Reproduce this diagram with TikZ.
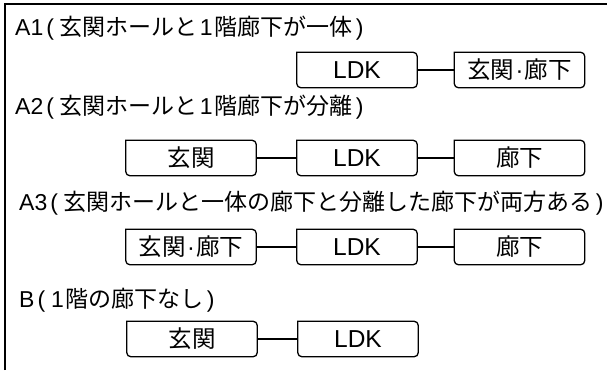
\documentclass[tikz,border=0pt]{standalone}
\usepackage{fontspec}
\setmainfont{Liberation Sans}
\newfontfamily\jp{Noto Sans CJK JP}
\newcommand{\J}[1]{{\jp #1}}
\newcommand{\Dot}{\hspace{1.5pt}·\hspace{1.5pt}}
\begin{document}
\begin{tikzpicture}[x=1pt,y=-1pt,
  lbl/.style={anchor=west,inner sep=0pt,font=\fontsize{23}{27}\selectfont},
  room/.style={inner sep=0pt,minimum height=35pt,font=\fontsize{23.5}{27}\selectfont},
  wide/.style={room,minimum width=130pt},
  mid/.style={room,minimum width=120pt,font=\fontsize{24.5}{27}\selectfont},
  link/.style={line width=1.2pt},
  outline/.style={line width=1.3pt,rounded corners=4pt,line cap=rect},
  frame/.style={line width=1.6pt}]
\useasboundingbox (0,0) rectangle (607,370);
\draw[frame] (5,370) -- (5,4) -- (607,4);

% labels
\node[lbl] (la1) at (15,28) {A1\hspace{3pt}(\hspace{6pt}\J{玄関ホールと}\hspace{2pt}1\hspace{2pt}\J{階廊下が一体}\hspace{3pt})};
\node[lbl] (la2) at (15,107) {A2\hspace{3pt}(\hspace{6pt}\J{玄関ホールと}\hspace{2pt}1\hspace{2pt}\J{階廊下が分離}\hspace{3pt})};
\node[lbl] (la3) at (19,203) {A3\hspace{3pt}(\hspace{6pt}\J{玄関ホールと一体の廊下と分離した廊下が両方ある}\hspace{3pt})};
\node[lbl] (lb) at (19,300) {B\hspace{3pt}(\hspace{6pt}1\hspace{2pt}\J{階の廊下なし}\hspace{3pt})};

% row A1
\node[mid]  (a1l) at (357,70) {LDK};
\node[wide] (a1h) at (519.5,70) {\J{玄関}\Dot\J{廊下}};
% row A2
\node[wide] (a2e) at (191,158) {\J{玄関}};
\node[mid]  (a2l) at (357,158) {LDK};
\node[wide] (a2c) at (519.5,158) {\J{廊下}};
% row A3
\node[wide] (a3h) at (191,247) {\J{玄関}\Dot\J{廊下}};
\node[mid]  (a3l) at (357,247) {LDK};
\node[wide] (a3c) at (519.5,247) {\J{廊下}};
% row B
\node[wide] (be) at (192,339) {\J{玄関}};
\node[mid]  (bl) at (358,339) {LDK};

\foreach \n in {a1l,a1h,a2e,a2l,a2c,a3h,a3l,a3c,be,bl}
  \draw[outline] (\n.north west) -- (\n.north east) -- (\n.south east) -- (\n.south west) -- (\n.north west);

\draw[link] (a1l) -- (a1h);
\draw[link] (a2e) -- (a2l);
\draw[link] (a2l) -- (a2c);
\draw[link] (a3h) -- (a3l);
\draw[link] (a3l) -- (a3c);
\draw[link] (be) -- (bl);
\end{tikzpicture}
\end{document}
